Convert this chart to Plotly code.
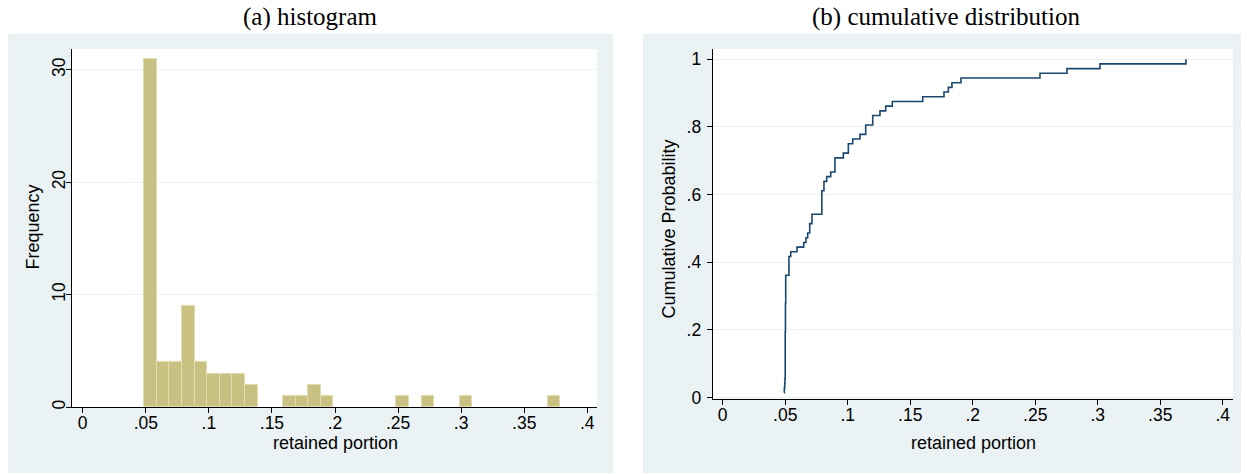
import numpy as np
import plotly.graph_objects as go

# ---- data: retained portion for each observation (read from the CDF / histogram) ----
retained_portion = [
    0.0490, 0.0493, 0.0496, 0.0498,
    0.0500, 0.0500, 0.0500, 0.0500, 0.0500, 0.0500, 0.0500, 0.0500, 0.0500, 0.0500,
    0.0502, 0.0502, 0.0502, 0.0502, 0.0502, 0.0502,
    0.0504, 0.0504, 0.0504, 0.0504, 0.0504, 0.0504,
    0.0530, 0.0530, 0.0530, 0.0530, 0.0544,
    0.0594, 0.0648, 0.0666, 0.0680,
    0.0696, 0.0696, 0.0714, 0.0714,
    0.0793, 0.0793, 0.0793, 0.0793, 0.0793, 0.0810, 0.0810, 0.0832, 0.0864,
    0.0898, 0.0898, 0.0898, 0.0965,
    0.1005, 0.1005, 0.1040,
    0.1098, 0.1144, 0.1144,
    0.1200, 0.1200, 0.1258,
    0.1304, 0.1357,
    0.1600, 0.1770, 0.1805, 0.1834, 0.1906,
    0.2538, 0.2754, 0.3018, 0.3706,
]
bin_start = 0.0487
bin_width = 0.01

x_tickvals = [0, 0.05, 0.1, 0.15, 0.2, 0.25, 0.3, 0.35, 0.4]
x_ticktext = ["0", ".05", ".1", ".15", ".2", ".25", ".3", ".35", ".4"]
hist_yticks = [0, 10, 20, 30]
cdf_yticks = [0, 0.2, 0.4, 0.6, 0.8, 1]
cdf_yticktext = ["0", ".2", ".4", ".6", ".8", "1"]

panel_titles = ["(a) histogram", "(b) cumulative distribution"]
x_title = "retained portion"
hist_ytitle = "Frequency"
cdf_ytitle = "Cumulative Probability"

# ---- empirical CDF (ties share the highest cumulative value) ----
vals = np.sort(np.array(retained_portion))
uniq = np.unique(vals)
n = len(vals)
cdf = [np.sum(vals <= u) / n for u in uniq]

# target picture size; the page viewport is a bit taller than the photo,
# so the figure is made that tall and positions are expressed as fractions
W, H = 1247, 474
FIG_H = 482
def px(x):
    return x / W
def py(y):
    return 1 - y / H

BG = "#eaf2f3"
AX = "#000000"
BAR = "#c9c182"
BAR_EDGE = "#e2dcae"
LINE = "#1a476f"

fig = go.Figure()

fig.add_trace(go.Histogram(
    x=retained_portion,
    xbins=dict(start=bin_start, end=0.45, size=bin_width),
    marker=dict(color=BAR, line=dict(color=BAR_EDGE, width=1)),
    xaxis="x", yaxis="y", showlegend=False,
))

fig.add_trace(go.Scatter(
    x=uniq, y=cdf, mode="lines", line=dict(color=LINE, width=1.6, shape="hv"),
    xaxis="x2", yaxis="y2", showlegend=False,
))

tickfont = dict(family="Liberation Sans, Arial, sans-serif", size=17.5, color="#000")
common_x = dict(
    tickmode="array", tickvals=x_tickvals, ticktext=x_ticktext,
    ticks="outside", ticklen=5, tickcolor=AX, tickwidth=1,
    showline=True, linecolor=AX, linewidth=1, showgrid=False, zeroline=False,
    tickfont=tickfont, fixedrange=True, ticklabelstandoff=-5,
)

L1, R1, T1, B1 = 72, 597, 49, 408
L2, R2, T2, B2 = 712.7, 1233, 49, 399.5

fig.update_layout(
    width=W, height=FIG_H,
    margin=dict(l=0, r=0, t=0, b=0),
    paper_bgcolor="white", plot_bgcolor="white",
    bargap=0,
    xaxis=dict(domain=[px(L1), px(R1)], range=[-0.0085, 0.4077], anchor="y", **common_x),
    yaxis=dict(domain=[py(B1), py(T1)], range=[0, 31.86], anchor="x",
               tickmode="array", tickvals=hist_yticks, tickangle=-90,
               ticks="outside", ticklen=5, tickcolor=AX, tickwidth=1,
               showline=True, linecolor=AX, linewidth=1,
               showgrid=True, gridcolor=BG, gridwidth=1, zeroline=False,
               tickfont=tickfont, fixedrange=True, ticklabelstandoff=-6),
    xaxis2=dict(domain=[px(L2), px(R2)], range=[-0.008, 0.4082], anchor="y2", **common_x),
    yaxis2=dict(domain=[py(B2), py(T2)], range=[-0.0035, 1.0304], anchor="x2",
                tickmode="array", tickvals=cdf_yticks, ticktext=cdf_yticktext,
                ticks="outside", ticklen=5, tickcolor=AX, tickwidth=1,
                showline=True, linecolor=AX, linewidth=1,
                showgrid=True, gridcolor=BG, gridwidth=1, zeroline=False,
                tickfont=tickfont, fixedrange=True, ticklabelstandoff=2),
    shapes=[
        dict(type="rect", xref="paper", yref="paper", x0=px(8), x1=px(613), y0=0, y1=py(34),
             fillcolor=BG, line=dict(width=0), layer="below"),
        dict(type="rect", xref="paper", yref="paper", x0=px(643), x1=px(1241), y0=0, y1=py(34),
             fillcolor=BG, line=dict(width=0), layer="below"),
        dict(type="rect", xref="paper", yref="paper", x0=px(L1), x1=px(R1), y0=py(B1), y1=py(T1),
             fillcolor="white", line=dict(width=0), layer="below"),
        dict(type="rect", xref="paper", yref="paper", x0=px(L2), x1=px(R2), y0=py(B2), y1=py(T2),
             fillcolor="white", line=dict(width=0), layer="below"),
    ],
)

titlefont = dict(family="Liberation Serif, Times New Roman, serif", size=25, color="#000")
labfont = dict(family="Liberation Sans, Arial, sans-serif", size=18, color="#000")
ann = [
    dict(text=panel_titles[0], x=px(310), y=py(17), font=titlefont),
    dict(text=panel_titles[1], x=px(946), y=py(17), font=titlefont),
    dict(text=x_title, x=px(335), y=py(444), font=labfont),
    dict(text=x_title, x=px(973), y=py(444), font=labfont),
    dict(text=hist_ytitle, x=px(33), y=py(228), font=labfont, textangle=-90),
    dict(text=cdf_ytitle, x=px(669), y=py(230), font=labfont, textangle=-90),
]
for a in ann:
    a.update(xref="paper", yref="paper", showarrow=False, xanchor="center", yanchor="middle")
fig.update_layout(annotations=ann)

# remove the browser's default 8px body margin so the figure sits at the page origin
fig.write_html(
    "out.html",
    config={"displayModeBar": False},
    post_script="document.body.style.margin='0';document.body.style.overflow='hidden';",
)
